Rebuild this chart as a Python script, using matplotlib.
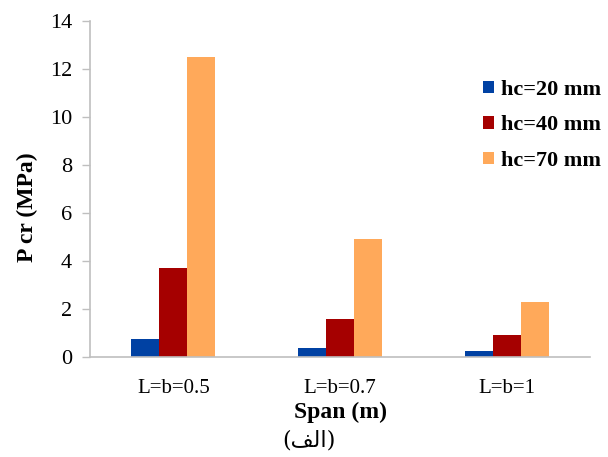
import matplotlib
matplotlib.use('Agg')
import matplotlib.pyplot as plt
import numpy as np

spans = ['L=b=0.5', 'L=b=0.7', 'L=b=1']
series = ['hc=20 mm', 'hc=40 mm', 'hc=70 mm']
hc20 = [0.75, 0.38, 0.25]
hc40 = [3.7, 1.6, 0.93]
hc70 = [12.5, 4.9, 2.3]
colors = ['#0041A3', '#A50000', '#FFA95A']

plt.rcParams['font.family'] = ['Liberation Serif', 'DejaVu Sans']

fig = plt.figure(figsize=(6.08, 4.57), dpi=100)
ax = fig.add_axes([90 / 608, 1 - 357 / 457, 500 / 608, 336 / 457])

x = np.arange(len(spans))
w = 0.168
for i, (vals, lab) in enumerate(zip([hc20, hc40, hc70], series)):
    ax.bar(x + (i - 1) * w, vals, w, color=colors[i], label=lab)

ax.set_xlim(-0.5, 2.5)
ax.set_ylim(0, 14)
ax.set_yticks(range(0, 15, 2))
ax.set_xticks(x)
ax.set_xticklabels(spans)
ax.tick_params(axis='x', length=0, pad=16, labelsize=15)
ax.tick_params(axis='y', length=6, width=1, color='#BFBFBF', pad=7, labelsize=16)
for s in ['top', 'right']:
    ax.spines[s].set_visible(False)
for s in ['left', 'bottom']:
    ax.spines[s].set_color('#BFBFBF')
    ax.spines[s].set_linewidth(1.2)

ax.set_ylabel('P cr (MPa)', fontsize=17, fontweight='bold')
ax.yaxis.set_label_coords(-0.104, 0.446)
ax.set_xlabel('Span (m)', fontsize=17, fontweight='bold')
ax.xaxis.set_label_coords(0.5, -0.134)

leg = ax.legend(loc='upper left', bbox_to_anchor=(384 / 500, 1 - 50 / 336),
                frameon=False, prop={'size': 16, 'weight': 'bold'},
                handlelength=0.5, handleheight=0.5, handletextpad=0.3,
                labelspacing=0.7, borderaxespad=0)

# (الف) in visual order with shaped forms
fig.text(309 / 608, 1 - 440 / 457, '(\uFED2\uFEDF\uFE8D)', ha='center', va='center',
         fontsize=16, family=['DejaVu Serif', 'DejaVu Sans'])

fig.savefig('out.png', dpi=100)
